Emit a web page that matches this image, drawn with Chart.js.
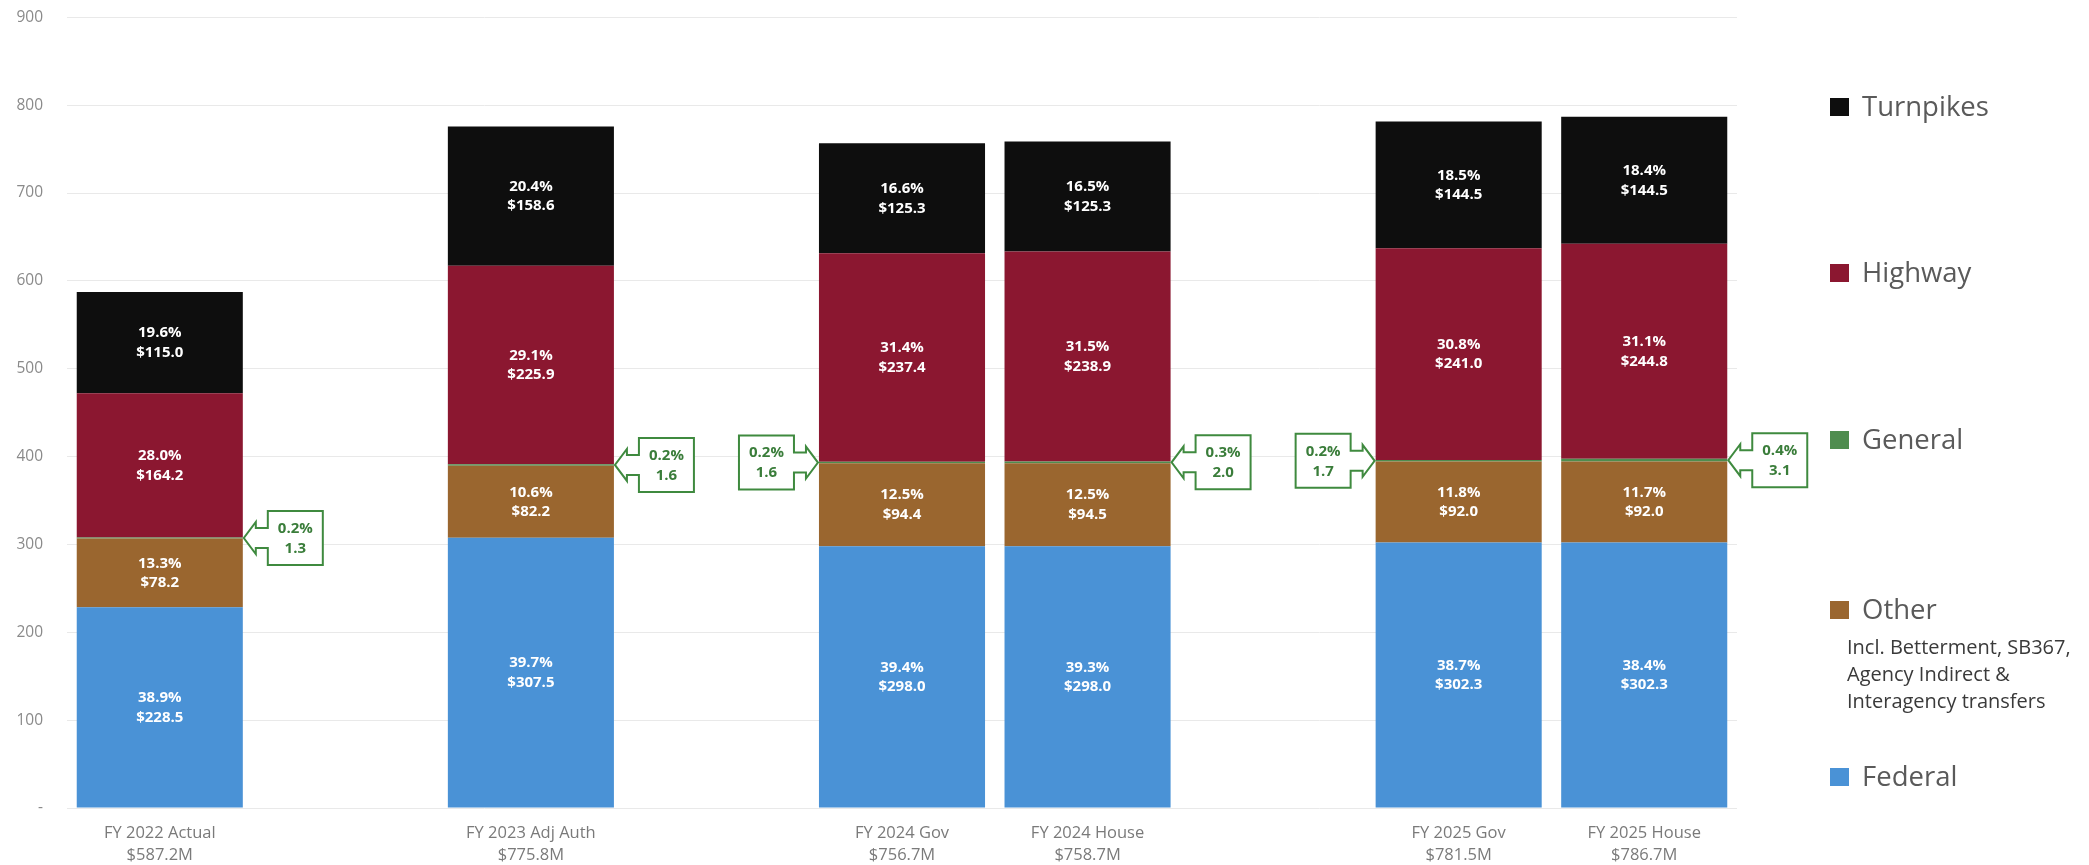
<!DOCTYPE html>
<html>
<head>
<meta charset="utf-8">
<script src="https://cdn.jsdelivr.net/npm/chart.js@4.4.1/dist/chart.umd.min.js"></script>
<style>
  html, body { margin: 0; padding: 0; background: #ffffff; }
  #wrap { width: 2089px; height: 865px; position: relative; }
</style>
</head>
<body>
<div id="wrap"><canvas id="c" width="2089" height="865"></canvas></div>
<script>
// Budget by fund source, $ millions. Empty slots separate the fiscal-year groups.
const categories = [
  ['FY 2022 Actual', '$587.2M'], '',
  ['FY 2023 Adj Auth', '$775.8M'], '',
  ['FY 2024 Gov', '$756.7M'], ['FY 2024 House', '$758.7M'], '',
  ['FY 2025 Gov', '$781.5M'], ['FY 2025 House', '$786.7M']
];
const federal   = [228.5, null, 307.5, null, 298.0, 298.0, null, 302.3, 302.3];
const other     = [78.2,  null, 82.2,  null, 94.4,  94.5,  null, 92.0,  92.0];
const general   = [1.3,   null, 1.6,   null, 1.6,   2.0,   null, 1.7,   3.1];
const highway   = [164.2, null, 225.9, null, 237.4, 238.9, null, 241.0, 244.8];
const turnpikes = [115.0, null, 158.6, null, 125.3, 125.3, null, 144.5, 144.5];

const federalPct   = [38.9, null, 39.7, null, 39.4, 39.3, null, 38.7, 38.4];
const otherPct     = [13.3, null, 10.6, null, 12.5, 12.5, null, 11.8, 11.7];
const generalPct   = [0.2,  null, 0.2,  null, 0.2,  0.3,  null, 0.2,  0.4];
const highwayPct   = [28.0, null, 29.1, null, 31.4, 31.5, null, 30.8, 31.1];
const turnpikesPct = [19.6, null, 20.4, null, 16.6, 16.5, null, 18.5, 18.4];

// Which side of the bar the General callout sits on
const calloutSide = ['right', null, 'right', null, 'left', 'right', null, 'left', 'right'];

const yTicks = [0, 100, 200, 300, 400, 500, 600, 700, 800, 900];

const legendItems = [
  { label: 'Turnpikes', color: '#0e0e0e' },
  { label: 'Highway',   color: '#8b1730' },
  { label: 'General',   color: '#4f8d4f' },
  { label: 'Other',     color: '#9a662f', note: ['Incl. Betterment, SB367,', 'Agency Indirect &', 'Interagency transfers'] },
  { label: 'Federal',   color: '#4a92d6' }
];

const FONT = "'Open Sans', 'Noto Sans', sans-serif";
const CALLOUT_GREEN = '#3f8a3f';

// Two-line value labels inside each segment
const segmentLabels = {
  id: 'segmentLabels',
  afterDatasetsDraw(chart) {
    const ctx = chart.ctx;
    ctx.save();
    ctx.fillStyle = '#ffffff';
    ctx.font = 'bold 15px ' + FONT;
    ctx.textAlign = 'center';
    ctx.textBaseline = 'middle';
    chart.data.datasets.forEach((ds, di) => {
      if (!ds.pct || ds.noInnerLabel) return;
      const meta = chart.getDatasetMeta(di);
      meta.data.forEach((bar, i) => {
        const v = ds.data[i];
        if (v == null) return;
        const cy = (bar.y + bar.base) / 2;
        ctx.fillText(ds.pct[i].toFixed(1) + '%', bar.x, cy - 9.5);
        ctx.fillText('$' + v.toFixed(1), bar.x, cy + 10);
      });
    });
    ctx.restore();
  }
};

// Arrow callouts pointing at the thin General segment
const generalCallouts = {
  id: 'generalCallouts',
  afterDatasetsDraw(chart) {
    const di = chart.data.datasets.findIndex(d => d.label === 'General');
    const ds = chart.data.datasets[di];
    const meta = chart.getDatasetMeta(di);
    const ctx = chart.ctx;
    ctx.save();
    meta.data.forEach((bar, i) => {
      const v = ds.data[i];
      if (v == null) return;
      const side = calloutSide[i];
      const dir = side === 'right' ? 1 : -1;
      const ly = (bar.y + bar.base) / 2;
      const tip = bar.x + dir * (bar.width / 2 + 1);
      const headLen = 12, headHalf = 16, shaftHalf = 10, arrowLen = 24;
      const boxW = 55, boxHalf = 27;
      const bx = tip + dir * arrowLen;          // near edge of box
      const fx = bx + dir * boxW;               // far edge of box
      const hx = tip + dir * headLen;           // base of arrow head
      ctx.beginPath();
      ctx.moveTo(bx, ly - boxHalf);
      ctx.lineTo(fx, ly - boxHalf);
      ctx.lineTo(fx, ly + boxHalf);
      ctx.lineTo(bx, ly + boxHalf);
      ctx.lineTo(bx, ly + shaftHalf);
      ctx.lineTo(hx, ly + shaftHalf);
      ctx.lineTo(hx, ly + headHalf);
      ctx.lineTo(tip, ly);
      ctx.lineTo(hx, ly - headHalf);
      ctx.lineTo(hx, ly - shaftHalf);
      ctx.lineTo(bx, ly - shaftHalf);
      ctx.closePath();
      ctx.fillStyle = '#ffffff';
      ctx.fill();
      ctx.lineWidth = 2;
      ctx.strokeStyle = CALLOUT_GREEN;
      ctx.stroke();
      const cx = (bx + fx) / 2;
      ctx.fillStyle = '#3a7d3a';
      ctx.font = 'bold 15px ' + FONT;
      ctx.textAlign = 'center';
      ctx.textBaseline = 'middle';
      ctx.fillText(ds.pct[i].toFixed(1) + '%', cx, ly - 9.5);
      ctx.fillText(v.toFixed(1), cx, ly + 10.5);
    });
    ctx.restore();
  }
};

// Legend column on the right
const sideLegend = {
  id: 'sideLegend',
  afterDraw(chart) {
    const ctx = chart.ctx;
    const rows = [107, 273, 440, 610, 777];
    ctx.save();
    legendItems.forEach((it, k) => {
      const y = rows[k];
      ctx.fillStyle = it.color;
      ctx.fillRect(1830, y - 9, 19, 18);
      ctx.fillStyle = '#5a5a5a';
      ctx.font = '27.5px ' + FONT;
      ctx.textAlign = 'left';
      ctx.textBaseline = 'middle';
      ctx.fillText(it.label, 1862, y + 1);
      if (it.note) {
        ctx.fillStyle = '#3a3a3a';
        ctx.font = '20px ' + FONT;
        it.note.forEach((line, j) => ctx.fillText(line, 1847, y + 38 + j * 27));
      }
    });
    ctx.restore();
  }
};

const mk = (label, data, pct, color, extra) => Object.assign({
  label, data, pct,
  backgroundColor: color,
  borderWidth: 0,
  categoryPercentage: 1.0,
  barPercentage: 0.895
}, extra || {});

new Chart(document.getElementById('c'), {
  type: 'bar',
  data: {
    labels: categories,
    datasets: [
      mk('Federal', federal, federalPct, '#4a92d6'),
      mk('Other', other, otherPct, '#9a662f'),
      mk('General', general, generalPct, '#4f8d4f', { noInnerLabel: true }),
      mk('Highway', highway, highwayPct, '#8b1730'),
      mk('Turnpikes', turnpikes, turnpikesPct, '#0e0e0e')
    ]
  },
  options: {
    responsive: false,
    animation: false,
    devicePixelRatio: 1,
    layout: { padding: { top: 1, right: 352, left: 0, bottom: 0 } },
    plugins: {
      legend: { display: false },
      tooltip: { enabled: false }
    },
    scales: {
      x: {
        stacked: true,
        offset: true,
        grid: { display: false, drawTicks: false },
        border: { display: false },
        ticks: {
          color: '#7a7a7a',
          font: { family: FONT, size: 16.5, lineHeight: 1.33 },
          padding: 14,
          maxRotation: 0,
          autoSkip: false
        },
        afterFit(scale) { scale.height = 57; }
      },
      y: {
        stacked: true,
        min: 0,
        max: 900,
        afterBuildTicks(scale) { scale.ticks = yTicks.map(v => ({ value: v })); },
        grid: { color: '#e9e9e9', lineWidth: 1, drawTicks: true, tickLength: 16, tickColor: 'rgba(0,0,0,0)' },
        border: { display: false },
        ticks: {
          color: '#8a8a8a',
          font: { family: FONT, size: 15.5 },
          padding: 8,
          callback: v => (v === 0 ? '-' : String(v))
        },
        afterFit(scale) { scale.width = 67; }
      }
    }
  },
  plugins: [segmentLabels, generalCallouts, sideLegend]
});
</script>
</body>
</html>
